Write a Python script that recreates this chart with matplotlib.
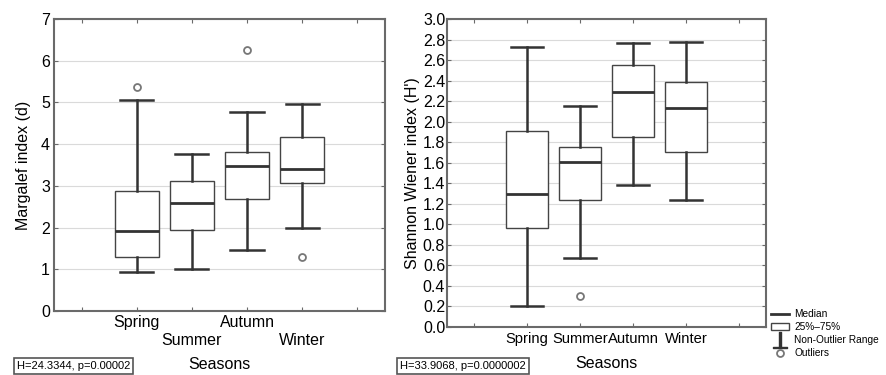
import matplotlib
matplotlib.use("Agg")
import matplotlib.pyplot as plt
from matplotlib.lines import Line2D
from matplotlib.patches import Rectangle

plt.rcParams["font.family"] = ["Liberation Sans", "DejaVu Sans"]

seasons = ["Spring", "Summer", "Autumn", "Winter"]
positions = [2, 3, 4, 5]

# Margalef index (d)
marg_whislo = [0.93, 1.00, 1.47, 1.99]
marg_q1 = [1.29, 1.93, 2.68, 3.08]
marg_med = [1.92, 2.58, 3.48, 3.40]
marg_q3 = [2.88, 3.12, 3.80, 4.16]
marg_whishi = [5.05, 3.77, 4.77, 4.95]
marg_fliers = [[5.38], [], [6.26], [1.30]]

# Shannon Wiener index (H')
shan_whislo = [0.20, 0.67, 1.38, 1.24]
shan_q1 = [0.96, 1.24, 1.85, 1.70]
shan_med = [1.29, 1.61, 2.29, 2.13]
shan_q3 = [1.91, 1.75, 2.55, 2.39]
shan_whishi = [2.73, 2.15, 2.77, 2.78]
shan_fliers = [[], [0.30], [], []]

line_c = "#333333"
frame_c = "#6a6a6a"


def make_stats(lo, q1, med, q3, hi, fl):
    return [dict(whislo=a, q1=b, med=c, q3=d, whishi=e, fliers=f)
            for a, b, c, d, e, f in zip(lo, q1, med, q3, hi, fl)]


def draw_panel(ax, stats):
    ax.bxp(stats, positions=positions, widths=0.8, patch_artist=True,
           showfliers=True, manage_ticks=False,
           boxprops=dict(facecolor="white", edgecolor="#444444", linewidth=1.0),
           medianprops=dict(color=line_c, linewidth=2.0),
           whiskerprops=dict(color=line_c, linewidth=1.8),
           capprops=dict(color=line_c, linewidth=1.8),
           capwidths=0.6,
           flierprops=dict(marker="o", markersize=5, markerfacecolor="none",
                           markeredgecolor="#777777", markeredgewidth=1.3))
    ax.set_xlim(0.5, 6.5)
    ax.set_xticks([1, 2, 3, 4, 5, 6])
    ax.yaxis.grid(True, color="#dadada", linewidth=0.8, zorder=0)
    ax.set_axisbelow(True)
    for s in ax.spines.values():
        s.set_color(frame_c)
        s.set_linewidth(1.5)
    ax.tick_params(direction="in", length=3, color=frame_c, top=True,
                   right=True, labelsize=11.5, pad=3)
    ax.set_xlabel("Seasons", fontsize=11.5, labelpad=7)


fig = plt.figure(figsize=(8.87, 3.75), dpi=100)
ax1 = fig.add_axes([0.0609, 0.1707, 0.373, 0.7787])
ax2 = fig.add_axes([0.5043, 0.1288, 0.359, 0.8205])

draw_panel(ax1, make_stats(marg_whislo, marg_q1, marg_med, marg_q3,
                           marg_whishi, marg_fliers))
ax1.set_ylim(0, 7)
ax1.set_yticks(range(0, 8))
ax1.set_xticklabels(["", "Spring", "\nSummer", "Autumn", "\nWinter", ""])
ax1.set_ylabel("Margalef index (d)", fontsize=11.5, labelpad=7)

draw_panel(ax2, make_stats(shan_whislo, shan_q1, shan_med, shan_q3,
                           shan_whishi, shan_fliers))
ax2.set_ylim(0, 3.0)
ax2.set_yticks([i / 5 for i in range(16)])
ax2.set_yticklabels([f"{i / 5:.1f}" for i in range(16)])
ax2.tick_params(axis="y", pad=1.5)
ax2.tick_params(axis="x", labelsize=10.6, pad=4)
ax2.set_xticklabels(["", "Spring", "Summer", "Autumn", "Winter", ""])
ax2.set_ylabel("Shannon Wiener index (H')", fontsize=11.5, labelpad=2)

box_kw = dict(boxstyle="square,pad=0.25", facecolor="white",
              edgecolor="#555555", linewidth=1.2)
fig.text(17 / 887, 1 - 366 / 375, "H=24.3344, p=0.00002", fontsize=8,
         va="center", bbox=box_kw)
fig.text(400 / 887, 1 - 366 / 375, "H=33.9068, p=0.0000002", fontsize=8,
         va="center", bbox=box_kw)

handles = [
    Line2D([], [], color=line_c, linewidth=2.0),
    Rectangle((0, 0), 1, 1, facecolor="white", edgecolor="#444444", linewidth=1.0),
    Line2D([], [], color=line_c, linestyle="none", marker=r"$\perp$",
           markersize=12),
    Line2D([], [], linestyle="none", marker="o", markersize=5,
           markerfacecolor="none", markeredgecolor="#777777", markeredgewidth=1.3),
]
labels = ["Median", "25%\u201375%", "Non-Outlier Range", "Outliers"]
fig.legend(handles, labels, loc="upper left",
           bbox_to_anchor=(764 / 887, 1 - 302 / 375), frameon=False,
           fontsize=7.3, handlelength=1.8, handletextpad=0.5,
           labelspacing=0.3, borderpad=0.2)

fig.savefig("out.png", dpi=100)
